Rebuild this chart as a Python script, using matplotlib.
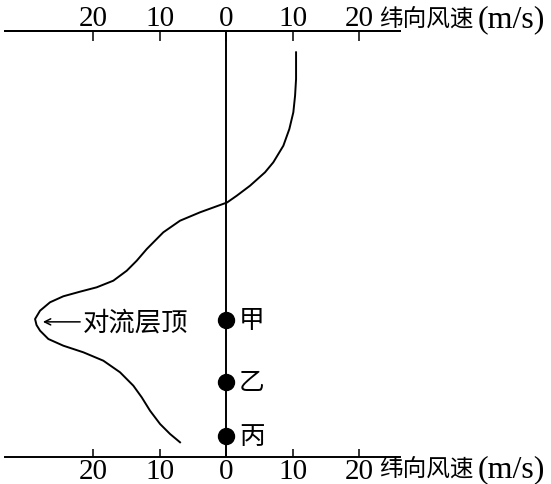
import matplotlib.pyplot as plt
from matplotlib.ticker import FuncFormatter

# 纬向风速 (m/s) 与高度 (相对单位, 0=底轴, 100=顶轴)
风速 = [10.47, 10.47, 10.32, 10.06, 9.46, 8.56, 7.05, 5.80, 3.55, 1.55, 0.09,
        -3.97, -6.98, -9.49, -11.98, -13.49, -14.99, -17.01, -19.50, -22.02,
        -24.53, -26.53, -28.03, -28.78, -28.56, -28.03, -26.78, -24.53, -21.52,
        -18.51, -16.00, -14.00, -12.74, -11.49, -9.98, -8.48, -6.98]
高度 = [94.93, 88.67, 84.75, 80.86, 76.94, 73.02, 69.13, 66.78, 63.64, 61.29,
        59.70, 57.40, 55.43, 52.71, 48.79, 46.05, 43.70, 41.36, 39.81, 38.78,
        37.70, 36.29, 34.32, 32.37, 30.96, 29.63, 27.68, 26.11, 24.56, 22.59,
        19.87, 16.73, 14.00, 10.86, 7.74, 5.40, 3.45]

# 观测点
点名 = ['甲', '乙', '丙']
点高 = [32.2, 17.6, 4.9]

刻度 = [-20, -10, 0, 10, 20]
对流层顶高度 = 31.7

serif = ['Liberation Serif', 'Noto Sans CJK SC']
cjk = ['Noto Sans CJK SC', 'DejaVu Sans']

fig = plt.figure(figsize=(5.51, 4.85), dpi=100)
ax = fig.add_axes([5 / 551, 1 - 458 / 485, 395 / 551, 426.3 / 485])
ax.set_xlim(-33.3, 26.1)
ax.set_ylim(0, 100)

# 曲线与中心竖线
ax.plot(风速, 高度, color='black', lw=1.4, solid_joinstyle='round')
ax.plot([0, 0], [0, 100], color='black', lw=1.4)
ax.plot([0] * len(点高), 点高, 'o', color='black', ms=11.5)
for name, h in zip(点名, 点高):
    ax.text(1.9, h, name, fontsize=18.5, family=cjk, va='center', ha='left')

# 对流层顶标注
ax.annotate('', xy=(-27.6, 对流层顶高度), xytext=(-22.0, 对流层顶高度),
            arrowprops=dict(arrowstyle='->', lw=1.1, color='black',
                            shrinkA=0, shrinkB=0, mutation_scale=11))
ax.text(-21.6, 对流层顶高度, '对流层顶', fontsize=19, family=cjk,
        va='center', ha='left')

# 坐标轴
for s in ['left', 'right']:
    ax.spines[s].set_visible(False)
for s in ['top', 'bottom']:
    ax.spines[s].set_linewidth(1.4)
ax.set_yticks([])
fmt = FuncFormatter(lambda v, p: f'{abs(v):g}')
ax.set_xticks(刻度)
ax.xaxis.set_major_formatter(fmt)
ax.tick_params(axis='x', direction='in', length=5.5, width=1.1, pad=1,
               labelsize=21)
for lab in ax.get_xticklabels():
    lab.set_family(serif)

top = ax.secondary_xaxis('top')
top.set_xticks(刻度)
top.xaxis.set_major_formatter(fmt)
top.spines['top'].set_linewidth(1.4)
top.tick_params(axis='x', direction='in', length=7.5, width=1.1, pad=0,
                labelsize=21)
for lab in top.get_xticklabels():
    lab.set_family(serif)

# 轴名: 中文与单位分开写
for base in [27, 477]:
    fig.text(379 / 551, 1 - base / 485, '纬向风速', fontsize=17, family=cjk,
             va='baseline', ha='left')
    fig.text(478 / 551, 1 - base / 485, '(m/s)', fontsize=23, family=serif,
             va='baseline', ha='left')

fig.savefig('out.png', dpi=100)
